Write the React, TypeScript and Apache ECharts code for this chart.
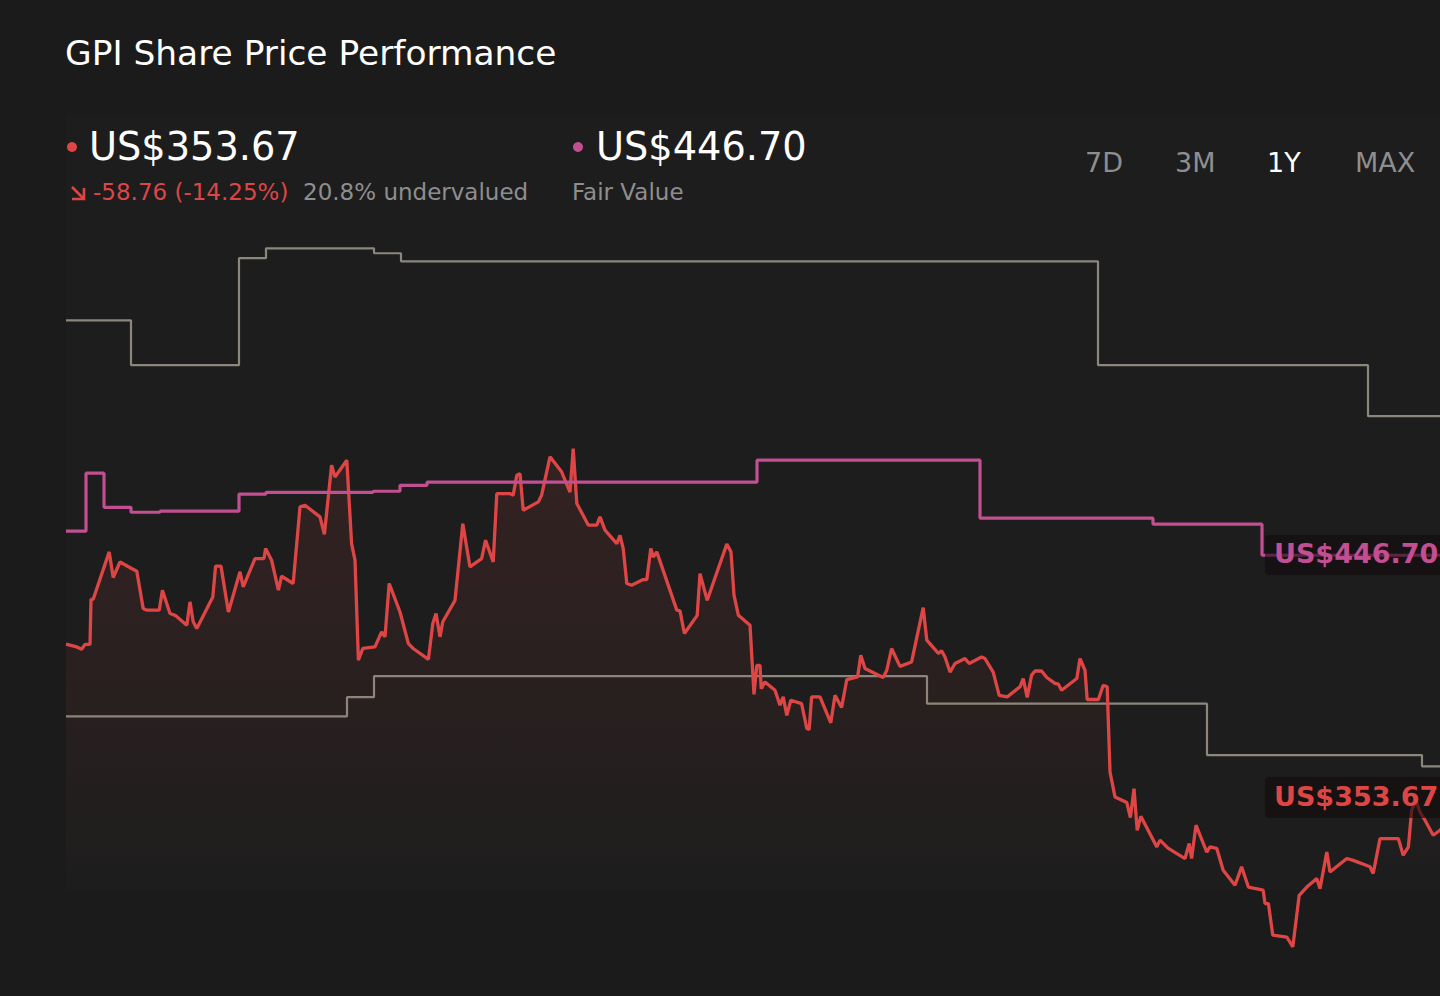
import React, { useEffect, useRef } from "react";
import * as echarts from "echarts";

// Share price (US$) by day offset within the 1Y window
const priceDays = [
  0, 2.7, 3.9, 4.75, 6.0, 6.25, 6.8, 10.8, 11.8, 13.5,
  16.4, 17.7, 19.3, 20.2, 23.3, 24.1, 26.0, 27.3, 30.2, 31.0,
  31.8, 32.7, 36.7, 37.4, 38.75, 40.6, 43.5, 44.3, 47.25, 49.5,
  49.9, 51.4, 53.1, 53.9, 56.8, 58.5, 59.75, 63.5, 64.6, 66.4,
  67.25, 70.2, 71.4, 72.25, 73.1, 74.2, 77.25, 78.9, 79.75, 80.8,
  83.5, 85.6, 86.8, 90.6, 91.7, 92.5, 93.5, 94.2, 97.25, 99.2,
  101.0, 103.9, 104.9, 106.8, 107.7, 111.0, 111.8, 112.7, 113.5, 114.3,
  118.1, 118.9, 121.0, 123.9, 126.0, 126.8, 127.7, 130.6, 132.7, 133.5,
  134.75, 137.7, 138.5, 139.3, 140.2, 141.4, 144.3, 145.2, 146.2, 146.8,
  147.7, 152.7, 153.5, 154.6, 157.8, 158.5, 160.3, 165.2, 166.25, 167.0,
  168.1, 171.0, 172.0, 172.7, 173.5, 173.8, 174.75, 177.25, 178.5, 179.3,
  180.2, 181.2, 183.9, 185.2, 185.8, 186.4, 188.5, 191.2, 192.25, 193.9,
  195.2, 197.9, 198.7, 199.75, 204.3, 205.2, 206.4, 208.5, 211.4, 214.3,
  215.2, 218.1, 218.9, 219.75, 221.0, 222.25, 224.75, 225.8, 228.9, 229.75,
  231.8, 233.3, 235.3, 238.5, 239.3, 240.3, 241.4, 242.25, 243.9, 245.2,
  247.25, 248.1, 248.9, 252.7, 253.5, 254.75, 255.3, 258.1, 259.3, 260.3,
  261.0, 262.25, 265.2, 266.1, 267.0, 267.8, 268.7, 272.7, 273.5, 275.5,
  279.75, 280.8, 281.4, 282.5, 285.2, 286.0, 287.7, 289.3, 292.25, 293.9,
  295.6, 299.3, 299.75, 300.6, 301.7, 305.2, 306.7, 308.3, 310.2, 312.7,
  313.5, 315.2, 316.0, 320.2, 321.8, 326.0, 326.8, 328.5, 333.1, 334.3,
  335.6, 336.4, 337.5, 338.5, 339.75, 341.8, 343.5, 346.5, 351,
];
const priceValues = [
  412.4, 411.3, 410.4, 412.3, 412.3, 429.7, 429.7, 448.0, 438.1, 444.1,
  441.6, 440.5, 426.1, 425.5, 425.5, 433.2, 424.2, 423.5, 419.7, 428.7,
  421.0, 418.4, 430.6, 442.5, 442.5, 424.8, 440.3, 434.5, 445.4, 445.4,
  449.3, 444.8, 433.2, 438.6, 435.8, 465.4, 466.0, 461.5, 454.8, 481.5,
  476.9, 483.4, 451.2, 444.8, 406.2, 410.7, 411.3, 417.1, 415.2, 435.8,
  424.8, 412.6, 410.7, 406.5, 420.3, 424.2, 415.2, 421.0, 429.3, 458.9,
  442.2, 445.4, 452.5, 444.1, 470.5, 470.5, 469.9, 477.6, 478.2, 464.1,
  467.3, 469.9, 484.7, 478.9, 471.1, 487.9, 466.7, 458.3, 458.3, 461.5,
  456.4, 451.2, 454.4, 449.3, 435.8, 435.1, 437.3, 437.3, 449.3, 446.0,
  448.0, 425.5, 425.2, 416.5, 423.5, 439.6, 429.3, 451.0, 448.0, 431.3,
  423.5, 419.7, 393.0, 404.2, 404.2, 395.2, 397.8, 394.6, 388.8, 392.0,
  384.9, 390.7, 389.4, 379.8, 379.4, 392.0, 392.0, 382.0, 392.6, 387.9,
  398.7, 399.7, 408.1, 403.0, 399.5, 402.3, 410.7, 403.8, 405.5, 426.5,
  413.9, 408.8, 409.8, 407.4, 401.6, 404.9, 406.8, 404.9, 407.4, 406.8,
  401.6, 392.6, 392.0, 395.9, 399.1, 391.8, 400.4, 402.0, 402.0, 399.5,
  397.2, 396.9, 394.6, 399.1, 406.8, 402.3, 391.0, 391.0, 396.5, 395.9,
  363.0, 353.4, 351.2, 345.4, 356.6, 340.5, 345.9, 334.1, 336.7, 333.6,
  329.6, 335.4, 329.6, 342.5, 332.1, 334.1, 333.5, 325.1, 319.3, 326.4,
  318.6, 317.4, 312.2, 312.2, 300.0, 299.3, 295.5, 315.4, 318.6, 321.9,
  318.0, 332.1, 324.4, 329.6, 328.9, 326.4, 323.8, 337.3, 337.3, 330.9,
  334.1, 348.2, 352.1, 347.5, 344.4, 338.6, 340.5, 346.3, 353.67,
];

// Fair value (step)
const fairDays = [0, 5.0, 9.5, 16.25, 23.5, 43.25, 50.0, 76.75, 83.5, 90.25, 172.75, 228.5, 271.75, 299, 351];
const fairValues = [456.0, 478.4, 465.2, 463.3, 463.7, 470.3, 471.0, 471.4, 473.7, 474.9, 483.4, 461.0, 458.7, 446.7, 446.7];

// Analyst high target (step)
const highDays = [0, 16.25, 43.25, 50, 77, 83.75, 258, 325.5, 351];
const highValues = [537.4, 520.1, 561.4, 565.2, 563.3, 560.2, 520.1, 500.4, 500.4];

// Analyst low target (step)
const lowDays = [0, 70.25, 77, 215.25, 285.25, 339, 351];
const lowValues = [384.5, 391.9, 400.0, 389.4, 369.5, 365.2, 365.2];

const timeframes = ["7D", "3M", "1Y", "MAX"];
const activeTimeframe = "1Y";

const BG = "#1b1b1b";
const RED = "#de4646";
const MAGENTA = "#c24f91";
const GREY = "#8b877d";
const FONT = "DejaVu Sans";

export default function App() {
  const ref = useRef<HTMLDivElement>(null);

  useEffect(() => {
    if (!ref.current) return;
    const chart = echarts.init(ref.current, undefined, { renderer: "svg" });
    const zip = (d: number[], v: number[]) => d.map((x, i) => [x, v[i]]);

    const tfX = [1085, 1175, 1267, 1355];

    chart.setOption({
      animation: false,
      backgroundColor: BG,
      grid: { left: 66, top: 210, width: 1404, height: 777, containLabel: false },
      xAxis: { type: "value", min: 0, max: 351, show: false },
      yAxis: { type: "value", min: 280, max: 580, show: false, splitLine: { show: false } },
      series: [
        {
          name: "High",
          type: "line",
          step: "end",
          data: zip(highDays, highValues),
          symbol: "none",
          lineStyle: { color: GREY, width: 2.2 },
          z: 2,
        },
        {
          name: "Low",
          type: "line",
          step: "end",
          data: zip(lowDays, lowValues),
          symbol: "none",
          lineStyle: { color: GREY, width: 2.2 },
          z: 2,
        },
        {
          name: "Price",
          type: "line",
          data: zip(priceDays, priceValues),
          symbol: "none",
          lineStyle: { color: RED, width: 3.3 },
          itemStyle: { color: RED },
          areaStyle: {
            color: new echarts.graphic.LinearGradient(0, 0, 0, 1, [
              { offset: 0, color: "rgba(222,70,70,0.17)" },
              { offset: 0.5, color: "rgba(222,70,70,0.08)" },
              { offset: 0.82, color: "rgba(222,70,70,0)" },
              { offset: 1, color: "rgba(222,70,70,0)" },
            ]),
          },
          z: 3,
        },
        {
          name: "Fair Value",
          type: "line",
          step: "end",
          data: zip(fairDays, fairValues),
          symbol: "none",
          lineStyle: { color: MAGENTA, width: 3.2 },
          z: 4,
        },
      ],
      graphic: [
        {
          type: "rect",
          z: -1,
          silent: true,
          shape: { x: 66, y: 115, width: 1374, height: 775 },
          style: { fill: "rgba(255,235,235,0.012)" },
        },
        {
          type: "text",
          x: 65,
          y: 53,
          style: { text: "GPI Share Price Performance", font: `34.4px '${FONT}'`, fill: "#ffffff", verticalAlign: "middle" },
        },
        { type: "circle", shape: { cx: 72, cy: 147, r: 5 }, style: { fill: RED } },
        {
          type: "text",
          x: 89,
          y: 146,
          style: { text: "US$353.67", font: `38.3px '${FONT}'`, fill: "#ffffff", verticalAlign: "middle" },
        },
        {
          type: "polyline",
          shape: { points: [[72, 187], [84, 199]] },
          style: { stroke: RED, lineWidth: 2.6, fill: "none" },
        },
        {
          type: "polyline",
          shape: { points: [[72, 199], [84, 199], [84, 188]] },
          style: { stroke: RED, lineWidth: 2.6, fill: "none" },
        },
        {
          type: "text",
          x: 93,
          y: 192,
          style: { text: "-58.76 (-14.25%)", font: `23px '${FONT}'`, fill: RED, verticalAlign: "middle" },
        },
        {
          type: "text",
          x: 303,
          y: 192,
          style: { text: "20.8% undervalued", font: `23px '${FONT}'`, fill: "#8e8e8e", verticalAlign: "middle" },
        },
        { type: "circle", shape: { cx: 578, cy: 147, r: 5 }, style: { fill: MAGENTA } },
        {
          type: "text",
          x: 596,
          y: 146,
          style: { text: "US$446.70", font: `38.3px '${FONT}'`, fill: "#ffffff", verticalAlign: "middle" },
        },
        {
          type: "text",
          x: 572,
          y: 192,
          style: { text: "Fair Value", font: `23px '${FONT}'`, fill: "#8e8e8e", verticalAlign: "middle" },
        },
        ...timeframes.map((t, i) => ({
          type: "text",
          x: tfX[i],
          y: 162,
          style: {
            text: t,
            font: `27px '${FONT}'`,
            fill: t === activeTimeframe ? "#ffffff" : "#8e8e8e",
            verticalAlign: "middle",
          },
        })),
        {
          type: "rect",
          z: 100,
          shape: { x: 1265, y: 535, width: 210, height: 40, r: 4 },
          style: { fill: "rgba(18,12,15,0.6)" },
        },
        {
          type: "text",
          z: 101,
          x: 1274,
          y: 553,
          style: { text: "US$446.70", font: `bold 27px '${FONT}'`, fill: MAGENTA, verticalAlign: "middle" },
        },
        {
          type: "rect",
          z: 100,
          shape: { x: 1265, y: 777, width: 210, height: 41, r: 4 },
          style: { fill: "rgba(18,12,13,0.65)" },
        },
        {
          type: "text",
          z: 101,
          x: 1274,
          y: 796,
          style: { text: "US$353.67", font: `bold 27px '${FONT}'`, fill: RED, verticalAlign: "middle" },
        },
      ],
    });

    return () => chart.dispose();
  }, []);

  return (
    <div
      style={{
        position: "fixed",
        left: 0,
        top: 0,
        width: 1440,
        height: 996,
        overflow: "hidden",
        background: BG,
      }}
    >
      <div ref={ref} style={{ width: 1480, height: 996 }} />
    </div>
  );
}
